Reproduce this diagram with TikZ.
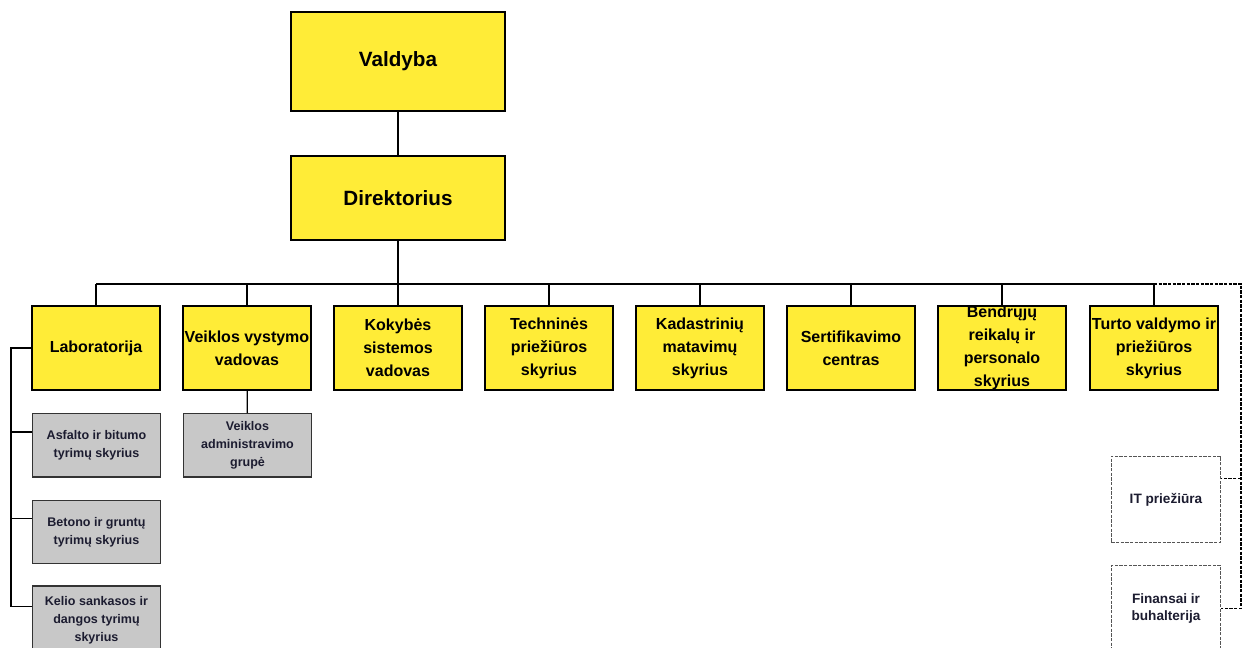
\documentclass[tikz,border=0pt]{standalone}
\usepackage{fontspec}
\setmainfont{Liberation Sans}
\usepackage{tikz}
\usetikzlibrary{positioning}

\definecolor{boxyellow}{RGB}{255,236,55}
\definecolor{boxgray}{RGB}{200,200,200}
\definecolor{txtdark}{RGB}{28,28,48}
\definecolor{dashgray}{RGB}{85,85,85}

\begin{document}
\begin{tikzpicture}[x=0.75pt, y=-0.75pt,
	head/.style={draw, line width=1.5pt, fill=boxyellow, inner sep=0pt, align=center,
		minimum width=160.5pt, font=\bfseries\fontsize{15.5}{18}\selectfont},
	unit/.style={draw, line width=1.5pt, fill=boxyellow, inner sep=0pt, align=center,
		minimum width=96pt, minimum height=63pt, font=\bfseries\fontsize{12}{17.25}\selectfont},
	sub/.style={draw=black!80, line width=1pt, fill=boxgray, inner sep=0pt, align=center,
		minimum width=96pt, minimum height=47.5pt, text=txtdark,
		font=\bfseries\fontsize{9.4}{13.5}\selectfont},
	ext/.style={draw=dashgray, dash pattern=on 2.5pt off 1pt, line width=0.8pt, inner sep=0pt,
		align=center, minimum width=82pt, minimum height=65pt, text=txtdark,
		font=\bfseries\fontsize{10.2}{12.75}\selectfont},
	link/.style={line width=1.5pt},
	tree/.style={line width=1pt},
	dashlink/.style={line width=0.8pt, dash pattern=on 2.5pt off 1pt}
	]
	\useasboundingbox (0,0) rectangle (1243,648);
	
	% top of the chart
	\node[head, minimum height=74.5pt] (valdyba) at (398,61.5) {Valdyba};
	\node[head, minimum height=63pt] (direktorius) at (398,198) {Direktorius};
	\draw[link] (valdyba) -- (direktorius);
	
	% departments
	\foreach \x/\n/\t in {96/lab/Laboratorija,
			247/vvv/{Veiklos vystymo\\vadovas},
			398/ksv/{Kokybės\\sistemos\\vadovas},
			549/tps/{Techninės\\priežiūros\\skyrius},
			700/kms/{Kadastrinių\\matavimų\\skyrius},
			851/sc/{Sertifikavimo\\centras},
			1002/brp/{Bendrųjų\\reikalų ir\\personalo\\skyrius},
			1154/tvp/{Turto valdymo ir\\priežiūros\\skyrius}}
		\node[unit] (\n) at (\x,348) {\t};
	
	\coordinate (bus) at (398,284);
	\draw[link] (direktorius) -- (bus);
	\draw[link] (lab.north |- bus) -- (tvp.north |- bus);
	\foreach \n in {lab,vvv,ksv,tps,kms,sc,brp,tvp}
		\draw[link] (\n.north |- bus) -- (\n.north);
	
	% laboratory units
	\node[sub] (asf) at (96.5,445.5) {Asfalto ir bitumo\\tyrimų skyrius};
	\node[sub] (bet) at (96.5,532) {Betono ir gruntų\\tyrimų skyrius};
	\node[sub, minimum height=51pt] (kel) at (96.5,620) {Kelio sankasos ir\\dangos tyrimų\\skyrius};
	\node[sub] (vag) at (247.5,445.5) {Veiklos\\administravimo\\grupė};
	\draw[tree] (vvv) -- (vag);
	
	\coordinate (spine) at (11,349);
	\coordinate (asfin) at ([yshift=10pt]asf.west);
	\coordinate (betin) at ([yshift=10pt]bet.west);
	\coordinate (kelin) at ([yshift=10pt]kel.west);
	\draw[tree] (lab.west) -- (lab.west -| spine) -- (kelin -| spine) -- (kelin);
	\foreach \n in {asfin,betin}
		\draw[tree] (\n -| spine) -- (\n);
	
	% outsourced
	\node[ext] (it) at (1166,499.5) {IT priežiūra};
	\node[ext] (fin) at (1166,608.5) {Finansai ir\\buhalterija};
	
	\coordinate (rtop) at (1241,284);
	\coordinate (itin) at ([yshift=16pt]it.east);
	\draw[dashlink] (tvp.north |- bus) -- (rtop) -- (rtop |- fin.east) -- (fin.east);
	\draw[dashlink] (itin -| rtop) -- (itin);
\end{tikzpicture}
\end{document}
